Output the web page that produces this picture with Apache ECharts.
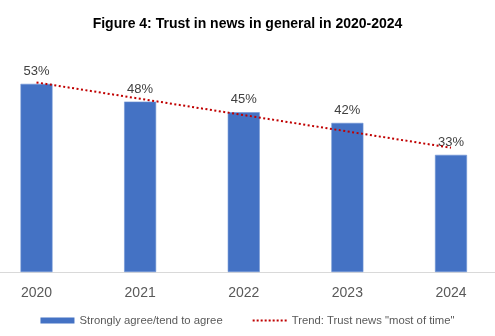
<!DOCTYPE html>
<html>
<head>
<meta charset="utf-8">
<script src="https://cdn.jsdelivr.net/npm/echarts@6/dist/echarts.min.js"></script>
<style>
  html, body { margin: 0; padding: 0; background: #fff; }
  #chart { width: 495px; height: 336px; }
</style>
</head>
<body>
<div id="chart"></div>
<script>
// Survey years
const years = ['2020', '2021', '2022', '2023', '2024'];
// Share who strongly agree / tend to agree (%)
const agreeShare = [53, 48, 45, 42, 33];
// Trend line: trust news "most of time" (%)
const trendShare = [53.4, 48.8, 44.2, 39.6, 35.0];

const FONT = '"Liberation Sans", Arial, sans-serif';

// Dotted-line legend glyph: nine small squares, padded to a 6-unit tall box
let dotPath = 'path://M0 0L0.01 0M0 6L0.01 6';
for (let i = 0; i < 9; i++) {
  dotPath += 'M' + (i * 4) + ' 2h2v2h-2z';
}

const chart = echarts.init(document.getElementById('chart'), null, { renderer: 'canvas' });
chart.setOption({
  animation: false,
  backgroundColor: '#ffffff',
  title: {
    text: 'Figure 4: Trust in news in general in 2020-2024',
    left: 'center',
    top: 12,
    textStyle: { fontFamily: FONT, fontSize: 14, fontWeight: 'bold', color: '#000000' }
  },
  grid: {
    left: -15.3, right: -7.8, top: 59, bottom: 64,
    containLabel: false,
    outerBoundsMode: 'none'
  },
  xAxis: {
    type: 'category',
    data: years,
    axisLine: { lineStyle: { color: '#d9d9d9', width: 1 } },
    axisTick: { show: false },
    axisLabel: { color: '#595959', fontFamily: FONT, fontSize: 14, margin: 14 }
  },
  yAxis: {
    type: 'value',
    min: 0,
    max: 60,
    show: false,
    splitLine: { show: false }
  },
  legend: {
    bottom: 5,
    left: 'center',
    itemGap: 30,
    textStyle: { color: '#595959', fontFamily: FONT, fontSize: 11.3 },
    data: [
      { name: 'Strongly agree/tend to agree', icon: 'rect', itemStyle: { color: '#4472C4', borderWidth: 0 } },
      { name: 'Trend: Trust news "most of time"', icon: dotPath, itemStyle: { color: '#c00000', borderWidth: 0 } }
    ],
    itemWidth: 34,
    itemHeight: 6
  },
  series: [
    {
      name: 'Strongly agree/tend to agree',
      type: 'bar',
      data: agreeShare,
      barWidth: 32,
      itemStyle: { color: '#4472C4', borderColor: '#6f93d3', borderWidth: 0.6 },
      label: {
        show: true,
        position: 'top',
        distance: 6,
        formatter: '{c}%',
        color: '#404040',
        fontFamily: FONT,
        fontSize: 13
      }
    },
    {
      name: 'Trend: Trust news "most of time"',
      type: 'line',
      data: trendShare,
      symbol: 'none',
      z: 5,
      lineStyle: { color: '#c00000', width: 2, type: [2, 2.5] },
      itemStyle: { color: '#c00000' }
    }
  ]
});
</script>
</body>
</html>
